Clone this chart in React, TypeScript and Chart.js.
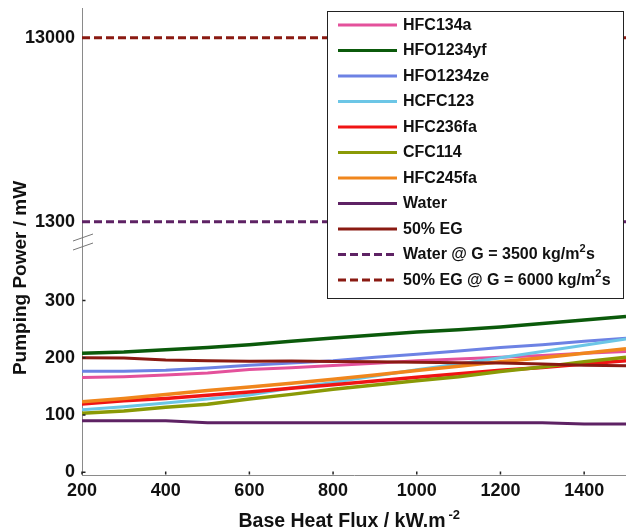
import React, { useEffect, useRef } from "react";
import { Chart, registerables } from "chart.js";

Chart.register(...registerables);

const FONT = "'Liberation Sans', Arial, Helvetica, sans-serif";

// Base heat flux (kW/m^2)
const heatFlux = [200, 300, 400, 500, 600, 700, 800, 900, 1000, 1100, 1200, 1300, 1400, 1500];

// Pumping power (mW)
const hfc134a = [165.5, 167, 170, 173.5, 179.5, 182.5, 186.5, 190.5, 195, 198, 201, 204, 208, 211];
const hfo1234yf = [208, 210, 214, 218, 223, 229, 234.5, 240, 245, 249, 254, 260, 266, 272];
const hfo1234ze = [176.5, 176.5, 178, 182, 187, 191, 195, 201, 206, 212, 218, 223, 229, 234];
const hcfc123 = [109, 114.5, 121, 128, 135, 147, 157, 168, 179, 189, 200, 211, 222, 233];
const hfc236fa = [119, 125, 129, 134.5, 140, 146.8, 153, 159.6, 166, 172, 178, 183, 189, 195];
const cfc114 = [103, 107, 113.5, 118.7, 128, 136, 145, 152.6, 160, 167, 176, 184, 193, 201];
const hfc245fa = [123, 129, 135.6, 142.6, 149, 155.6, 162.6, 170, 177.7, 185, 193, 200, 208, 216];
const water = [90, 90, 90, 86.5, 86.5, 86.5, 86.5, 86.5, 86.5, 86.5, 86.5, 86.5, 84, 84];
const eg50 = [200, 199.5, 196, 195, 194, 194.5, 193.5, 193, 192, 191.5, 191, 189, 187, 186];

// Reference lines (upper, broken part of the axis)
const refFlux = [200, 1500];
const waterRef = [1300, 1300];
const egRef = [13000, 13000];

// Tick labels
const xTicks = [200, 400, 600, 800, 1000, 1200, 1400];
const lowerTicks = [0, 100, 200, 300];
const upperTicks = [1300, 13000];

type Series = { label: string; values: number[]; color: string; width: number; dashed: boolean; upper: boolean; xs: number[] };

const series: Series[] = [
  { label: "HFC134a", values: hfc134a, color: "#E4519B", width: 3, dashed: false, upper: false, xs: heatFlux },
  { label: "HFO1234yf", values: hfo1234yf, color: "#0B5A0B", width: 3.5, dashed: false, upper: false, xs: heatFlux },
  { label: "HFO1234ze", values: hfo1234ze, color: "#6D82E4", width: 3, dashed: false, upper: false, xs: heatFlux },
  { label: "HCFC123", values: hcfc123, color: "#6CC6E6", width: 3, dashed: false, upper: false, xs: heatFlux },
  { label: "HFC236fa", values: hfc236fa, color: "#F01414", width: 3.5, dashed: false, upper: false, xs: heatFlux },
  { label: "CFC114", values: cfc114, color: "#8A9A06", width: 3.5, dashed: false, upper: false, xs: heatFlux },
  { label: "HFC245fa", values: hfc245fa, color: "#F0861C", width: 3.5, dashed: false, upper: false, xs: heatFlux },
  { label: "Water", values: water, color: "#5E2264", width: 3, dashed: false, upper: false, xs: heatFlux },
  { label: "50% EG", values: eg50, color: "#8A1A12", width: 3, dashed: false, upper: false, xs: heatFlux },
  { label: "Water @ G = 3500 kg/m|2|s", values: waterRef, color: "#5E2264", width: 3, dashed: true, upper: true, xs: refFlux },
  { label: "50% EG @ G = 6000 kg/m|2|s", values: egRef, color: "#8A1A12", width: 3, dashed: true, upper: true, xs: refFlux },
];

const DASH = [8, 4];

function drawRichText(ctx: CanvasRenderingContext2D, text: string, x: number, y: number, size: number) {
  // segments separated by "|" : normal | superscript | normal
  const parts = text.split("|");
  let cx = x;
  parts.forEach((p, i) => {
    const sup = i % 2 === 1;
    ctx.font = `bold ${sup ? Math.round(size * 0.7) : size}px ${FONT}`;
    ctx.fillText(p, cx, sup ? y - size * 0.38 : y);
    cx += ctx.measureText(p).width + (sup ? 0.5 : 0);
  });
}

const decorPlugin = {
  id: "decor",
  afterDatasetsDraw(chart: any) {
    const ctx: CanvasRenderingContext2D = chart.ctx;
    const xs = chart.scales.x;
    const yl = chart.scales.y;
    ctx.save();

    // inward tick marks
    ctx.strokeStyle = "#222";
    ctx.lineWidth = 1.5;
    ctx.beginPath();
    for (const t of xTicks) {
      const px = xs.getPixelForValue(t);
      ctx.moveTo(px, xs.top - 0.5);
      ctx.lineTo(px, xs.top - 3.5);
    }
    for (const t of lowerTicks) {
      const py = yl.getPixelForValue(t);
      ctx.moveTo(yl.right + 0.5, py);
      ctx.lineTo(yl.right + 3.5, py);
    }
    ctx.stroke();

    // axis break marks
    const by = yl.top;
    const ax = yl.right;
    ctx.strokeStyle = "#777";
    ctx.lineWidth = 1;
    ctx.beginPath();
    ctx.moveTo(ax - 9, by + 1);
    ctx.lineTo(ax + 11, by - 6);
    ctx.moveTo(ax - 9, by + 10);
    ctx.lineTo(ax + 11, by + 3);
    ctx.stroke();

    // legend box
    const lx = 327.5, ly = 11.5, lw = 296, lh = 287;
    ctx.fillStyle = "#fff";
    ctx.fillRect(lx, ly, lw, lh);
    ctx.strokeStyle = "#222";
    ctx.lineWidth = 1;
    ctx.strokeRect(lx, ly, lw, lh);
    ctx.textBaseline = "middle";
    ctx.textAlign = "left";
    series.forEach((s, i) => {
      const cy = 25 + i * 25.5;
      ctx.strokeStyle = s.color;
      ctx.lineWidth = 3;
      ctx.setLineDash(s.dashed ? DASH : []);
      ctx.beginPath();
      ctx.moveTo(338, cy);
      ctx.lineTo(397, cy);
      ctx.stroke();
      ctx.setLineDash([]);
      ctx.fillStyle = "#111";
      drawRichText(ctx, s.label, 403, cy + 0.5, 16);
    });

    // axis titles
    ctx.fillStyle = "#111";
    ctx.textBaseline = "alphabetic";
    ctx.save();
    ctx.translate(26, 278);
    ctx.rotate(-Math.PI / 2);
    ctx.textAlign = "center";
    ctx.font = `bold 19px ${FONT}`;
    ctx.fillText("Pumping Power / mW", 0, 0);
    ctx.restore();

    ctx.textAlign = "left";
    ctx.font = `bold 19.5px ${FONT}`;
    const main = "Base Heat Flux / kW.m";
    ctx.fillText(main, 238.5, 526.5);
    const w = ctx.measureText(main).width;
    ctx.font = `bold 13px ${FONT}`;
    ctx.fillText("-2", 238.5 + w + 3, 518.5);

    ctx.restore();
  },
};

export default function App() {
  const ref = useRef<HTMLCanvasElement | null>(null);

  useEffect(() => {
    document.body.style.margin = "0";
    const canvas = ref.current;
    if (!canvas) return;
    const tickFont = { family: FONT, size: 18, weight: "bold" as const };
    const fitY = (s: any) => {
      s.width = 82;
      s.paddingTop = 0;
      s.paddingBottom = 0;
    };
    const chart = new Chart(canvas, {
      type: "line",
      data: {
        datasets: series.map((s, i) => ({
          label: s.label,
          data: s.xs.map((x, k) => ({ x, y: s.values[k] })),
          borderColor: s.color,
          backgroundColor: s.color,
          borderWidth: s.width,
          borderDash: s.dashed ? DASH : [],
          pointRadius: 0,
          tension: 0,
          fill: false,
          yAxisID: s.upper ? "yTop" : "y",
          order: -i,
        })),
      },
      options: {
        responsive: false,
        animation: false,
        devicePixelRatio: 1,
        layout: { padding: { top: 8, left: 0, right: 0, bottom: 0 } },
        plugins: { legend: { display: false }, tooltip: { enabled: false }, title: { display: false } },
        scales: {
          x: {
            type: "linear",
            min: 200,
            max: 1500,
            afterBuildTicks: (s: any) => {
              s.ticks = xTicks.map((v) => ({ value: v }));
            },
            afterFit: (s: any) => {
              s.height = 57;
              s.paddingLeft = 0;
              s.paddingRight = 0;
            },
            grid: { display: false, drawTicks: false },
            border: { display: true, color: "#8a8a8a", width: 1 },
            ticks: { font: tickFont, color: "#111", padding: 5, maxRotation: 0, autoSkip: false, callback: (v: any) => String(v) },
          },
          yTop: {
            type: "logarithmic",
            position: "left",
            stack: "ystack",
            stackWeight: 232,
            weight: 1,
            min: 1034,
            max: 18850,
            afterBuildTicks: (s: any) => {
              s.ticks = upperTicks.map((v) => ({ value: v }));
            },
            afterFit: fitY,
            grid: { display: false, drawTicks: false },
            border: { display: true, color: "#8a8a8a", width: 1 },
            ticks: { font: tickFont, color: "#111", padding: 7, autoSkip: false, callback: (v: any) => String(v) },
          },
          y: {
            type: "linear",
            position: "left",
            stack: "ystack",
            stackWeight: 235,
            weight: 0,
            min: -5,
            max: 406,
            afterBuildTicks: (s: any) => {
              s.ticks = lowerTicks.map((v) => ({ value: v }));
            },
            afterFit: fitY,
            grid: { display: false, drawTicks: false },
            border: { display: true, color: "#8a8a8a", width: 1 },
            ticks: { font: tickFont, color: "#111", padding: 7, autoSkip: false, callback: (v: any) => String(v) },
          },
        },
      } as any,
      plugins: [decorPlugin],
    });
    return () => chart.destroy();
  }, []);

  return (
    <div style={{ width: 626, height: 532, position: "relative", background: "#fff" }}>
      <canvas ref={ref} width={626} height={532} style={{ display: "block" }} />
    </div>
  );
}
